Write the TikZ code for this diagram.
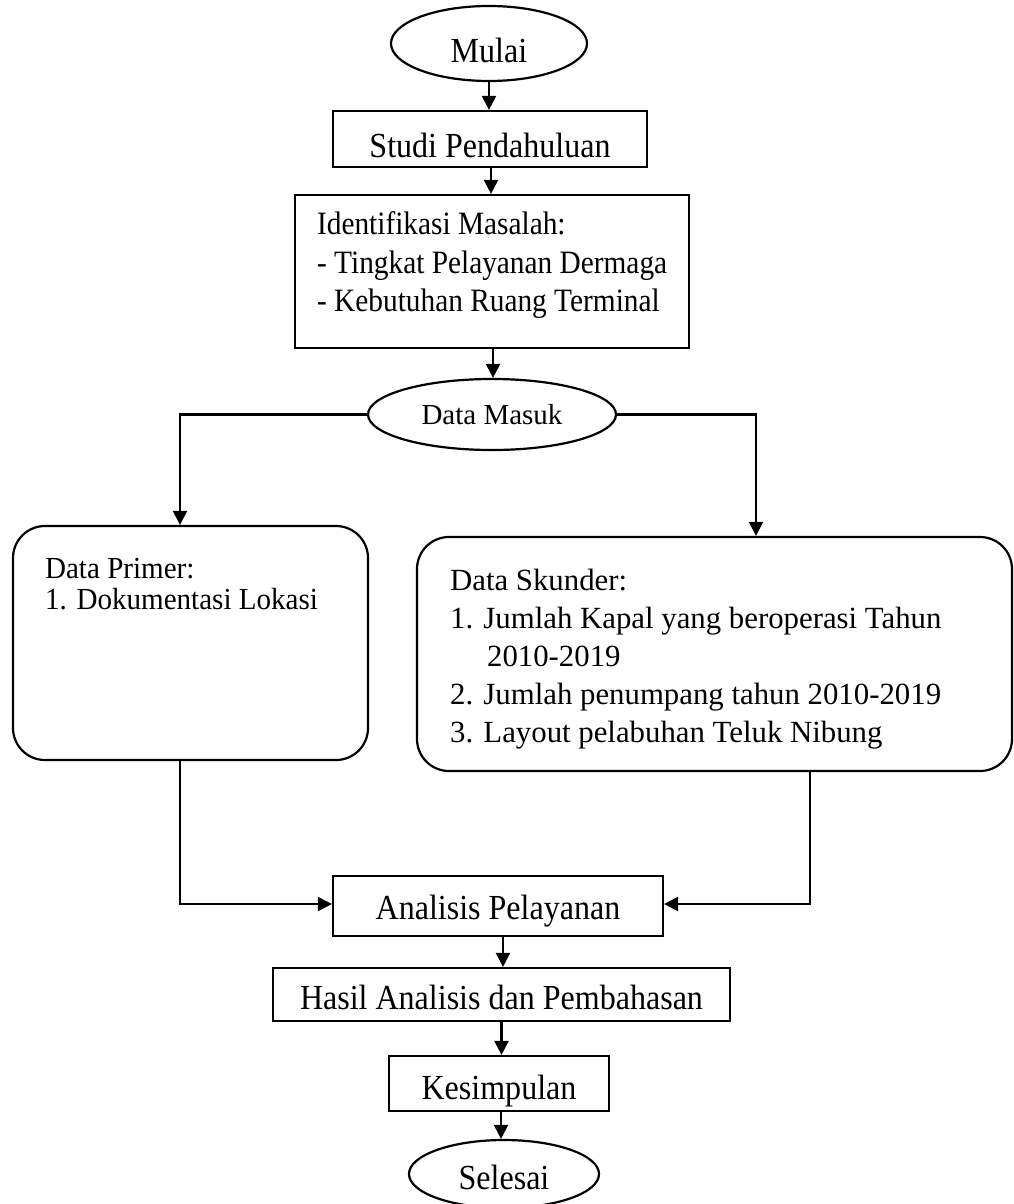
\documentclass[tikz,border=0pt]{standalone}
\usepackage{fontspec}
\setmainfont{Liberation Serif}
\newfontfamily\condA{Liberation Serif}[FakeStretch=0.91]
\newfontfamily\condB{Liberation Serif}[FakeStretch=0.9]
\newfontfamily\condC{Liberation Serif}[FakeStretch=0.95]
\usetikzlibrary{shapes.geometric,arrows.meta}
\begin{document}
\begin{tikzpicture}[x=0.5pt,y=-0.5pt,
  line width=1.1pt,
  arr/.style={-{Triangle[length=7pt,width=7pt]}},
  big/.style={font=\condA\fontsize{17.6}{21}\selectfont},
  oval/.style={draw,ellipse,inner sep=0pt,big},
  boxr/.style={draw,rectangle,inner sep=0pt,big},
  rbox/.style={draw,rectangle,rounded corners=16pt,inner sep=0pt},
  txt/.style={anchor=base west,inner sep=0pt},
  itxt/.style={txt,font=\condB\fontsize{16.3}{19}\selectfont},
  ptxt/.style={txt,font=\condC\fontsize{15.3}{19}\selectfont},
  stxt/.style={txt,font=\fontsize{15.4}{19}\selectfont}]
\useasboundingbox (0,0) rectangle (1013,1204);
\fill[white] (0,0) rectangle (1013,1204);

\node[oval,minimum width=98pt,minimum height=37.5pt,text height=19pt,text depth=0pt] (mulai) at (489,43.5) {Mulai};
\node[boxr,minimum width=157pt,minimum height=28pt,text height=18pt,text depth=0pt] (studi) at (490,139) {Studi Pendahuluan};
\node[boxr,minimum width=197pt,minimum height=76.5pt] (ident) at (492,271.5) {};
\node[itxt] (i1) at (316,234) {Identifikasi Masalah:};
\node[itxt] (i2) at (316,273) {- Tingkat Pelayanan Dermaga};
\node[itxt] (i3) at (316,311) {- Kebutuhan Ruang Terminal};

\node[draw,ellipse,inner sep=0pt,minimum width=124pt,minimum height=35.5pt,font=\fontsize{14.5}{17}\selectfont] (masuk) at (492,414.5) {Data Masuk};

\node[rbox,minimum width=177.5pt,minimum height=117pt] (primer) at (190.5,643) {};
\node[ptxt] (p1) at (44,578) {Data Primer:};
\node[ptxt] (p2) at (44,609) {1. Dokumentasi Lokasi};

\node[rbox,minimum width=297.5pt,minimum height=117pt] (skunder) at (714.5,654) {};
\node[stxt] (s1) at (449,590) {Data Skunder:};
\node[stxt] (s2) at (449,628) {1. Jumlah Kapal yang beroperasi Tahun};
\node[stxt] (s3) at (486,666) {2010-2019};
\node[stxt] (s4) at (449,704) {2. Jumlah penumpang tahun 2010-2019};
\node[stxt] (s5) at (449,742) {3. Layout pelabuhan Teluk Nibung};

\node[boxr,minimum width=165pt,minimum height=30pt,text height=13pt,text depth=0pt] (ana) at (498,906) {Analisis Pelayanan};
\node[boxr,minimum width=228.5pt,minimum height=26.5pt,text height=15pt,text depth=0pt] (hasil) at (501.5,994.5) {Hasil Analisis dan Pembahasan};
\node[boxr,minimum width=110pt,minimum height=27.5pt,text height=15.5pt,text depth=0pt] (kes) at (499,1083.5) {Kesimpulan};
\node[oval,minimum width=95pt,minimum height=34pt,text height=15pt,text depth=0pt] (sel) at (504,1174) {Selesai};

\draw[arr] (mulai.south) -- (mulai.south |- studi.north);
\draw[arr] ([xshift=0.5pt]studi.south) -- ([xshift=0.5pt]studi.south |- ident.north);
\draw[arr] ([xshift=0.5pt]ident.south) -- ([xshift=0.5pt]ident.south |- masuk.north);
\draw[arr] (masuk.west) -| ([xshift=-5.25pt]primer.north);
\draw[arr] (masuk.east) -| ([xshift=20.75pt]skunder.north);
\draw[arr] ([xshift=-5.25pt]primer.south) |- ([yshift=1pt]ana.west);
\draw[arr] ([xshift=47.75pt]skunder.south) |- ([yshift=1pt]ana.east);
\draw[arr] ([xshift=2.5pt]ana.south) -- ([xshift=0.75pt]hasil.north);
\draw[arr] (hasil.south) -- (hasil.south |- kes.north);
\draw[arr] ([xshift=1pt]kes.south) -- ([xshift=1pt]kes.south |- sel.north);
\end{tikzpicture}
\end{document}
